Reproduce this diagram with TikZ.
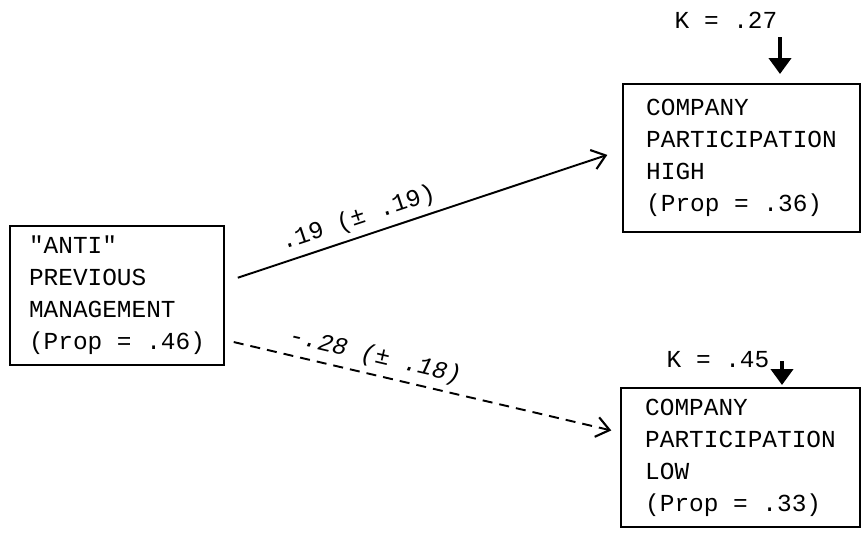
\documentclass[tikz,border=0pt]{standalone}
\usepackage{fontspec}
\setmonofont{Liberation Mono}
\usepackage{tikz}
\usetikzlibrary{positioning, arrows.meta}

\tikzset{
    varbox/.style={draw, line width=1.1pt, align=left, inner sep=0pt},
    effect/.style={line width=1.1pt, -{Straight Barb[length=2.6mm, width=4mm, line width=1.2pt]}},
    weakeffect/.style={effect, dash pattern=on 5.7pt off 4pt},
    karrow/.style={line width=2.5pt, -{Triangle[length=3.2mm, width=4.4mm]}}
}

\begin{document}
\begin{tikzpicture}[every node/.style={font=\ttfamily\fontsize{13.9}{18.2}\selectfont}]
    \useasboundingbox (0,0) rectangle (17.24,10.64);

    % Variables
    \node[varbox, minimum width=4.28cm, minimum height=2.78cm] (anti) at (2.34,4.73)
        {"ANTI"\\PREVIOUS\\MANAGEMENT\\(Prop = .46)};
    \node[varbox, minimum width=4.74cm, minimum height=2.96cm] (high) at (14.83,7.48)
        {COMPANY\\PARTICIPATION\\HIGH\\(Prop = .36)};
    \node[varbox, minimum width=4.78cm, minimum height=2.78cm] (low) at (14.81,1.49)
        {COMPANY\\PARTICIPATION\\LOW\\(Prop = .33)};

    % Paths
    \draw[effect, shorten <=0.27cm, shorten >=0.31cm] ([yshift=0.27cm]anti.east) -- ([yshift=0.16cm]high.west)
        node[pos=0.35, sloped, above] {.19 (± .19)};
    \draw[weakeffect, shorten <=0.18cm, shorten >=0.18cm] ([yshift=-0.89cm]anti.east) -- ([yshift=0.5cm]low.west)
        node[pos=0.37, sloped, above] {\itshape -.28 (± .18)};

    % Residuals
    \node (khigh) at (14.52,10.24) {K = .27};
    \node (klow) at (14.36,3.44) {K = .45};
    \coordinate (khightail) at (15.6,9.9);
    \coordinate (klowtail) at (15.64,3.42);
    \draw[karrow, shorten >=0.18cm] (khightail) -- (khightail |- high.north);
    \draw[karrow, shorten >=0.04cm] (klowtail) -- (klowtail |- low.north);
\end{tikzpicture}
\end{document}
